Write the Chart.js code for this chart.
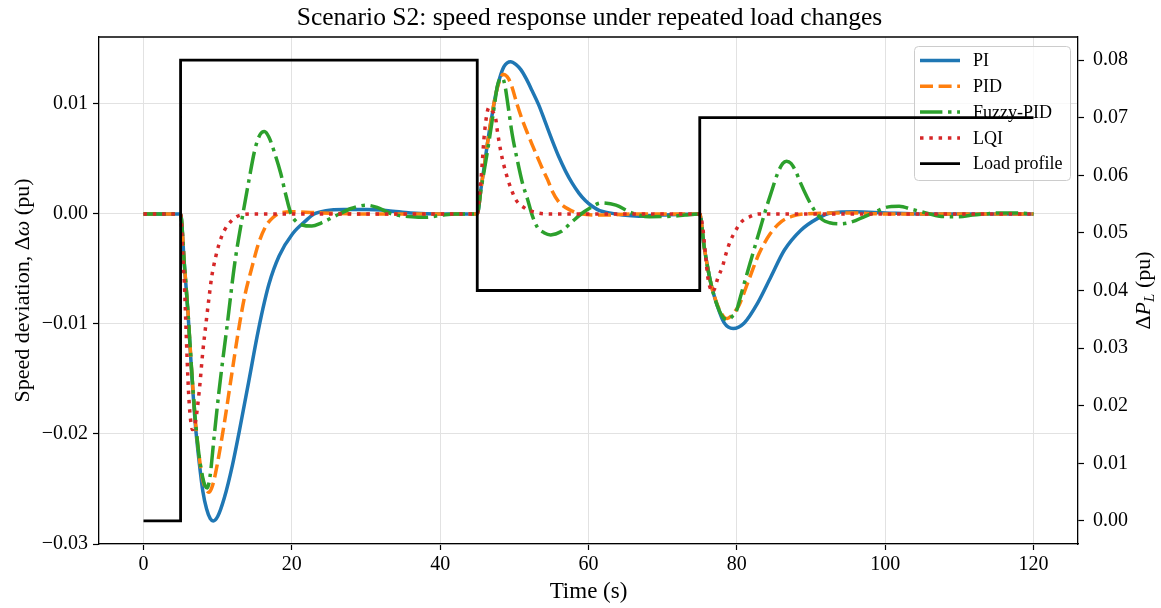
<!DOCTYPE html>
<html><head><meta charset="utf-8">
<script src="https://cdn.jsdelivr.net/npm/chart.js@4.4.1/dist/chart.umd.min.js"></script>
<style>html,body{margin:0;padding:0;background:#fff;overflow:hidden}</style>
</head><body>
<canvas id="c" width="1161" height="608"></canvas>
<script>
// ---------- data ----------
const xTicks  = [0, 20, 40, 60, 80, 100, 120];
const yTicks  = [-0.03, -0.02, -0.01, 0.00, 0.01];
const y2Ticks = [0.00, 0.01, 0.02, 0.03, 0.04, 0.05, 0.06, 0.07, 0.08];
const seriesNames = ['PI', 'PID', 'Fuzzy-PID', 'LQI', 'Load profile'];

// [time (s), speed deviation (pu)]
const piPoints = [[0,0],[5,0],[5.5,-0.0045],[6,-0.009],[6.5,-0.0145],[7,-0.0192],[7.5,-0.0225],[8,-0.0252],[8.5,-0.0268],[9,-0.0277],[9.4,-0.0279],[10,-0.0275],[10.9,-0.0258],[12,-0.0228],[12.9,-0.0198],[14.2,-0.0152],[15.3,-0.0112],[16.1,-0.0086],[16.9,-0.0064],[18.3,-0.0038],[20.1,-0.0018],[21.9,-0.0006],[23,0.0],[24.6,0.0003],[27,0.0004],[30,0.0004],[33,0.0003],[36,0.0001],[40,0],[45,0],
  [45.5,0.0023],[46,0.0046],[46.5,0.0070],[47,0.0090],[47.5,0.0109],[48,0.0123],[48.6,0.0134],[49.5,0.01385],[50.2,0.0136],[50.9,0.0131],[51.6,0.0123],[52.4,0.0112],[53.3,0.0099],[54.2,0.0083],[55.1,0.0067],[56,0.0052],[56.9,0.0039],[57.8,0.0028],[58.7,0.0019],[59.6,0.0012],[60.5,0.0007],[61.5,0.0003],[62.8,0.0001],[64.6,-0.0001],[66.8,-0.0002],[70,-0.0001],[75,0],
  [75.6,-0.003],[76.5,-0.0063],[77.4,-0.0084],[78.3,-0.0099],[79.5,-0.0104],[81,-0.0099],[82.8,-0.0081],[84.6,-0.0057],[86.4,-0.0033],[88.6,-0.0015],[90.9,-0.0004],[92.7,0.0001],[96,0.0002],[100,0.0001],[105,0],[120,0]];

const pidPoints = [[0,0],[5,0],[5.5,-0.0045],[6,-0.009],[6.5,-0.0143],[7,-0.0188],[7.5,-0.0220],[8,-0.0242],[8.5,-0.0251],[8.8,-0.0253],[9.2,-0.0249],[9.7,-0.0236],[10.9,-0.0190],[11.8,-0.0150],[12.9,-0.0102],[13.7,-0.0073],[14.6,-0.0049],[15.5,-0.0027],[16.5,-0.0011],[17.5,-0.0003],[18.5,0.0001],[20,0.0002],[24,0.0001],[30,0],[45,0],
  [45.5,0.0023],[46,0.0046],[46.5,0.0070],[47,0.0091],[47.5,0.0109],[48,0.0121],[48.5,0.0127],[49,0.0125],[49.5,0.0119],[50.4,0.0099],[51.1,0.0085],[51.8,0.0073],[52.4,0.0063],[53.1,0.0052],[53.8,0.0041],[54.5,0.0031],[55.1,0.0021],[56,0.0011],[57.4,0.0004],[59.1,0],[62,-0.0001],[66,0],[75,0],
  [75.6,-0.003],[76.5,-0.0063],[77.4,-0.0083],[78.3,-0.0094],[78.7,-0.0095],[79.2,-0.0093],[79.7,-0.0089],[80.3,-0.0083],[81.5,-0.0062],[83,-0.0036],[84.5,-0.0018],[86,-0.0007],[87.5,-0.0002],[89,0],[95,0.0001],[100,0],[120,0]];

const fuzzyPoints = [[0,0],[5,0],[5.5,-0.0045],[6,-0.009],[6.5,-0.0143],[7,-0.0188],[7.5,-0.0220],[8,-0.0240],[8.3,-0.0247],[8.6,-0.0249],[9,-0.0237],[9.5,-0.0204],[10.2,-0.0160],[11.3,-0.0100],[12.3,-0.0045],[13.4,0.0],[14.2,0.0030],[15,0.0058],[15.7,0.0072],[16.3,0.0075],[16.9,0.0070],[17.7,0.0055],[18.5,0.0037],[19.2,0.0017],[19.9,0.0],[20.6,-0.0007],[21.4,-0.0010],[22.7,-0.0011],[24,-0.0008],[26.4,0.0],[28,0.0005],[30,0.0008],[31.5,0.0006],[33.5,0.0],[36.2,-0.00025],[38,-0.0003],[40.3,-0.0001],[42,0],[45,0],
  [45.5,0.0022],[46.4,0.0058],[47.3,0.0098],[47.7,0.0116],[48.1,0.0123],[48.4,0.01234],[48.7,0.0118],[49.1,0.0101],[49.7,0.0073],[50.4,0.0049],[51.1,0.0028],[51.8,0.0013],[52.4,-0.0001],[53.1,-0.0012],[54,-0.0017],[54.9,-0.0019],[56.3,-0.0016],[57.8,-0.0007],[59,0.0],[60.1,0.0005],[61.7,0.0010],[63.7,0.0008],[65.5,0.0002],[66.8,-0.0001],[68.2,-0.00025],[71.3,-0.0002],[73,-0.0001],[75,0],
  [75.6,-0.003],[76.5,-0.0063],[77.4,-0.0084],[78.3,-0.0095],[78.9,-0.0096],[79.4,-0.0093],[79.9,-0.0089],[80.5,-0.0075],[81,-0.0063],[81.9,-0.0042],[83.2,-0.0012],[83.9,0.0004],[84.8,0.0023],[85.5,0.0037],[86.2,0.0046],[86.7,0.0048],[87.3,0.0046],[88,0.0038],[88.6,0.0028],[89.5,0.0015],[90.4,0.0004],[91.5,-0.0005],[92.5,-0.0008],[94,-0.0009],[95.6,-0.0007],[97,-0.0003],[98.7,0.0002],[100.1,0.0006],[101.9,0.0007],[103.7,0.0004],[105.5,0.0001],[107.3,-0.0002],[110,-0.00025],[111.8,-0.0001],[113.5,0],[115.4,0.0001],[117.2,0.0001],[120,0]];

const lqiPoints = [[0,0],[5,0],[5.3,-0.0036],[5.5,-0.0062],[5.7,-0.0098],[5.9,-0.0135],[6.1,-0.0165],[6.3,-0.0184],[6.6,-0.0196],[7,-0.0189],[7.5,-0.0162],[8,-0.0125],[8.4,-0.0101],[8.8,-0.0078],[9.2,-0.0057],[9.7,-0.0040],[10.2,-0.0027],[10.9,-0.0015],[11.9,-0.0006],[13.1,-0.0001],[15,0],[45,0],
  [45.3,0.0018],[45.5,0.0031],[45.7,0.0049],[45.9,0.0068],[46.3,0.0091],[46.6,0.0097],[47,0.0094],[47.5,0.0086],[47.7,0.0076],[48.2,0.0056],[48.6,0.0044],[49.1,0.0032],[49.5,0.0024],[50.2,0.0013],[51.5,0.0005],[53.1,0.0001],[55,0],[75,0],
  [75.4,-0.0012],[75.6,-0.0025],[75.8,-0.0039],[76.1,-0.0058],[76.5,-0.0069],[76.7,-0.0071],[77,-0.0068],[77.4,-0.0059],[78.1,-0.0047],[78.5,-0.0037],[79.1,-0.0025],[79.6,-0.0018],[80.5,-0.0008],[81.9,-0.0002],[83,0],[120,0]];

// [time (s), load step ΔP_L (pu)]  (drawn as a step-before line)
const loadPoints = [[0,0],[5,0.08],[45,0.04],[75,0.07],[120,0.07]];

// ---------- helpers ----------
const toXY = pts => pts.map(p => ({x: p[0], y: p[1]}));
const fmt2 = v => (Math.abs(v) < 1e-12 ? '0.00' : v.toFixed(2)).replace('-', '\u2212');
const SERIF = '"Liberation Serif", "DejaVu Serif", serif';
Chart.defaults.font.family = SERIF;
Chart.defaults.color = '#000';

const LW = 3.5;
const gridColor = '#e2e2e2';

function drawLegend(chart) {
  const ctx = chart.ctx;
  const x0 = 914.5, y0 = 46.5, w = 156, h = 134;
  ctx.save();
  ctx.beginPath();
  ctx.roundRect(x0, y0, w, h, 4);
  ctx.fillStyle = 'rgba(255,255,255,0.8)';
  ctx.fill();
  ctx.strokeStyle = '#cccccc';
  ctx.lineWidth = 1;
  ctx.stroke();
  chart.data.datasets.forEach((ds, i) => {
    const y = 60.5 + i * 25.8;
    ctx.beginPath();
    ctx.setLineDash(ds.borderDash || []);
    ctx.lineDashOffset = 0;
    ctx.lineCap = 'butt';
    ctx.strokeStyle = ds.borderColor;
    ctx.lineWidth = ds.borderWidth;
    ctx.moveTo(920, y);
    ctx.lineTo(960, y);
    ctx.stroke();
    ctx.setLineDash([]);
    ctx.fillStyle = '#000';
    ctx.font = '18px ' + SERIF;
    ctx.textAlign = 'left';
    ctx.textBaseline = 'middle';
    ctx.fillText(ds.label, 973, y + 1);
  });
  ctx.restore();
}

function drawRich(ctx, parts, cx, cy, rot) {
  ctx.save();
  ctx.translate(cx, cy);
  ctx.rotate(rot);
  ctx.textBaseline = 'alphabetic';
  ctx.textAlign = 'left';
  let total = 0;
  parts.forEach(p => { ctx.font = p.f; p.w = ctx.measureText(p.t).width; total += p.w; });
  let x = -total / 2;
  parts.forEach(p => {
    ctx.font = p.f;
    ctx.fillStyle = '#000';
    ctx.fillText(p.t, x, 7 + (p.dy || 0));
    x += p.w;
  });
  ctx.restore();
}

const decorPlugin = {
  id: 'decor',
  beforeDatasetDraw(chart, args) {
    if (args.index === 4) drawLegend(chart);
  },
  afterDatasetsDraw(chart) {
    const {ctx, chartArea: a} = chart;
    ctx.save();
    ctx.strokeStyle = '#000';
    ctx.lineWidth = 1.3;
    ctx.beginPath();
    ctx.moveTo(a.left, a.top);
    ctx.lineTo(a.right, a.top);
    ctx.stroke();
    ctx.restore();
  },
  afterDraw(chart) {
    const ctx = chart.ctx;
    const cx = (chart.chartArea.left + chart.chartArea.right) / 2;
    drawRich(ctx, [{t: 'Scenario S2: speed response under repeated load changes', f: '25.5px ' + SERIF}], cx + 1, 18, 0);
    drawRich(ctx, [{t: 'Time (s)', f: '23px ' + SERIF}], cx, 591, 0);
    const cy = (chart.chartArea.top + chart.chartArea.bottom) / 2;
    drawRich(ctx, [
      {t: 'Speed deviation, \u0394', f: '22px ' + SERIF},
      {t: '\u03C9', f: 'italic 22px ' + SERIF},
      {t: ' (pu)', f: '22px ' + SERIF}], 22, cy, -Math.PI / 2);
    drawRich(ctx, [
      {t: '\u0394', f: '22px ' + SERIF},
      {t: 'P', f: 'italic 22px ' + SERIF},
      {t: 'L', f: 'italic 15px ' + SERIF, dy: 4},
      {t: ' (pu)', f: '22px ' + SERIF}], 1143, cy, -Math.PI / 2);
  }
};

const lineDs = (label, pts, color, dash, order) => ({
  label, data: toXY(pts), borderColor: color, backgroundColor: color,
  borderWidth: LW, borderDash: dash, pointRadius: 0, fill: false,
  cubicInterpolationMode: 'monotone', yAxisID: 'y', order
});

new Chart(document.getElementById('c'), {
  type: 'line',
  data: {
    datasets: [
      lineDs(seriesNames[0], piPoints, '#1f77b4', [], 5),
      lineDs(seriesNames[1], pidPoints, '#ff7f0e', [13, 5.6], 4),
      lineDs(seriesNames[2], fuzzyPoints, '#2ca02c', [22.4, 5.6, 3.5, 5.6], 3),
      lineDs(seriesNames[3], lqiPoints, '#d62728', [3.5, 5.8], 2),
      { label: seriesNames[4], data: toXY(loadPoints), borderColor: '#000', backgroundColor: '#000',
        borderWidth: 2.8, pointRadius: 0, stepped: 'before', fill: false, yAxisID: 'y2', order: 1 }
    ]
  },
  options: {
    responsive: false, animation: false, devicePixelRatio: 1,
    layout: {padding: {top: 37, left: 0, right: 0, bottom: 0}},
    plugins: {legend: {display: false}, title: {display: false}, tooltip: {enabled: false}},
    scales: {
      x: {
        type: 'linear', position: 'bottom', min: -6, max: 126,
        afterBuildTicks: s => { s.ticks = xTicks.map(v => ({value: v})); },
        afterFit: s => { s.height = 64; },
        ticks: {autoSkip: false, maxRotation: 0, padding: 3, font: {size: 20}, color: '#000', callback: v => String(v)},
        grid: {color: gridColor, lineWidth: 1, drawTicks: true, tickLength: 6, tickColor: '#000', tickWidth: 1.2},
        border: {display: true, color: '#000', width: 1.3}
      },
      y: {
        type: 'linear', position: 'left', min: -0.03, max: 0.01609,
        afterBuildTicks: s => { s.ticks = yTicks.map(v => ({value: v})); },
        afterFit: s => { s.width = 99; },
        ticks: {autoSkip: false, padding: 5, font: {size: 20}, color: '#000', callback: v => fmt2(v)},
        grid: {color: gridColor, lineWidth: 1, drawTicks: true, tickLength: 6, tickColor: '#000', tickWidth: 1.2},
        border: {display: true, color: '#000', width: 1.3}
      },
      y2: {
        type: 'linear', position: 'right', min: -0.004, max: 0.084,
        afterBuildTicks: s => { s.ticks = y2Ticks.map(v => ({value: v})); },
        afterFit: s => { s.width = 83; },
        ticks: {autoSkip: false, padding: 9, font: {size: 20}, color: '#000', callback: v => fmt2(v)},
        grid: {drawOnChartArea: false, drawTicks: true, tickLength: 6, tickColor: '#000', tickWidth: 1.2},
        border: {display: true, color: '#000', width: 1.3}
      }
    }
  },
  plugins: [decorPlugin]
});
</script>
</body></html>
